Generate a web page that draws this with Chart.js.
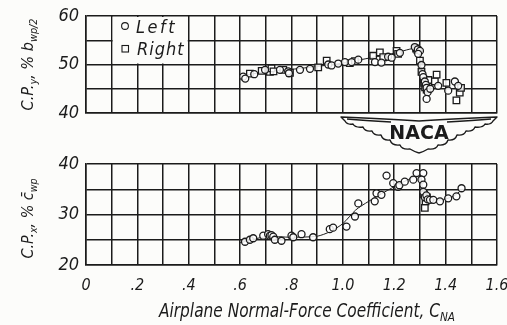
<!DOCTYPE html>
<html>
<head>
<meta charset="utf-8">
<script src="https://cdn.jsdelivr.net/npm/chart.js@4.4.1/dist/chart.umd.min.js"></script>
<style>
  html, body { margin: 0; padding: 0; background: #fcfcfa; overflow: hidden; }
  #wrap { position: relative; width: 507px; height: 325px; overflow: hidden; }
  #wrap canvas { position: absolute; left: 0; top: 0; }
</style>
</head>
<body>
<div id="wrap">
  <canvas id="cpy"></canvas>
  <canvas id="cpx"></canvas>
</div>
<script>
// ---- data: [C_NA, value] ----
const xTickLabels = ['0', '.2', '.4', '.6', '.8', '1.0', '1.2', '1.4', '1.6'];
const cpyTickLabels = [40, 50, 60];
const cpxTickLabels = [20, 30, 40];

// lateral centre of pressure, % b_wp/2
const cpyLeft = [
  [0.612,47.5],[0.620,47.1],[0.655,48.0],[0.697,48.9],[0.755,48.9],[0.787,48.6],[0.790,48.2],
  [0.833,48.9],[0.872,49.1],[0.943,50.0],[0.956,49.8],[0.982,50.2],[1.008,50.5],[1.034,50.5],
  [1.060,51.0],[1.125,50.5],[1.150,50.4],[1.176,51.6],[1.190,51.4],[1.222,52.4],[1.280,53.6],
  [1.292,53.1],[1.300,52.8],[1.293,52.2],[1.306,49.9],[1.310,48.0],[1.313,47.4],[1.319,46.5],
  [1.323,45.8],[1.326,45.2],[1.330,44.3],[1.326,42.9],[1.340,45.0],[1.371,45.6],[1.410,44.6],
  [1.436,46.5],[1.449,45.6]
];
const cpyRight = [
  [0.638,48.1],[0.684,48.7],[0.716,48.5],[0.722,49.2],[0.730,48.6],[0.768,48.9],[0.794,48.3],
  [0.904,49.4],[0.937,50.8],[1.027,50.3],[1.047,50.7],[1.118,51.8],[1.144,52.5],[1.157,51.5],
  [1.209,52.8],[1.215,52.2],[1.285,53.3],[1.290,53.0],[1.300,50.8],[1.306,48.5],[1.313,47.0],
  [1.316,46.2],[1.320,45.3],[1.326,44.8],[1.333,46.8],[1.358,46.5],[1.365,47.9],[1.403,46.2],
  [1.442,42.6],[1.455,44.2],[1.460,45.2]
];
const cpyFaired = [
  [0.60,47.6],[0.70,48.5],[0.80,49.0],[0.90,49.6],[1.00,50.3],[1.10,51.3],[1.20,52.3],
  [1.29,53.3],[1.30,50.5],[1.31,47.5],[1.325,45.0]
];

// chordwise centre of pressure, % c_wp
const cpxLeft = [
  [0.619,24.6],[0.638,25.0],[0.651,25.3],[0.690,25.8],[0.709,26.1],[0.716,25.8],[0.722,25.9],
  [0.729,25.6],[0.735,25.0],[0.761,24.8],[0.800,25.8],[0.807,25.5],[0.839,26.1],[0.884,25.5],
  [0.949,27.1],[0.962,27.4],[1.014,27.6],[1.047,29.6],[1.060,32.2],[1.124,32.6],[1.131,34.2],
  [1.150,33.9],[1.170,37.7],[1.196,36.2],[1.215,35.5],[1.220,35.8],[1.241,36.5],[1.274,36.9],
  [1.287,38.2],[1.313,38.2],[1.306,36.9],[1.313,35.9],[1.313,34.5],[1.319,33.4],[1.325,33.8],
  [1.330,33.0],[1.339,32.9],[1.352,32.9],[1.378,32.6],[1.410,33.2],[1.442,33.6],[1.462,35.2]
];
const cpxRight = [
  [1.316,34.0],[1.319,31.3],[1.322,32.6],[1.327,33.4]
];
const cpxFaired = [
  [0.60,24.4],[0.70,25.6],[0.80,25.5],[0.90,25.7],[0.95,26.6],[1.00,28.2],[1.05,30.9],
  [1.10,32.6],[1.15,34.1],[1.20,35.5],[1.25,36.8],[1.30,37.8],[1.31,35.0],[1.325,33.2],
  [1.38,32.9],[1.43,33.6],[1.465,35.0]
];

// ---- styling ----
const INK = '#1b1b1b';
const PAPER = '#fcfcfa';
const FONT = '"DejaVu Sans Condensed", "DejaVu Sans", sans-serif';
const W = 520, H = 325;
const toXY = arr => arr.map(([x, y]) => ({ x, y }));

function markerSet(label, pts, style) {
  return {
    label, data: toXY(pts), showLine: false, order: 0,
    pointStyle: style, pointRadius: style === 'rect' ? 4.6 : 3.5,
    pointBackgroundColor: 'rgba(255,255,255,0.85)', pointBorderColor: INK, pointBorderWidth: 1.3,
    pointHoverRadius: 0
  };
}
function fairedSet(pts) {
  return {
    label: 'faired', data: toXY(pts), showLine: true, order: 1,
    borderColor: INK, borderWidth: 1, pointRadius: 0, tension: 0.25, fill: false
  };
}

function xAxis(showLabels, height) {
  return {
    type: 'linear', min: 0, max: 1.6,
    afterBuildTicks: s => { s.ticks = Array.from({ length: 17 }, (_, i) => ({ value: i / 10 })); },
    ticks: {
      display: showLabels, autoSkip: false, maxRotation: 0, padding: 11, color: INK,
      font: { family: FONT, size: 16, style: 'italic' },
      callback: v => { const i = Math.round(v * 10); return i % 2 === 0 ? xTickLabels[i / 2] : ''; }
    },
    grid: { color: INK, lineWidth: 1.5, drawTicks: false },
    border: { color: INK, width: 1.5 },
    afterFit: s => { s.height = height; }
  };
}
function yAxis(min, max, labels) {
  return {
    type: 'linear', min, max,
    afterBuildTicks: s => { s.ticks = []; for (let v = min; v <= max; v += 5) s.ticks.push({ value: v }); },
    ticks: {
      padding: 7, color: INK, font: { family: FONT, size: 18, style: 'italic', lineHeight: 1 },
      callback: v => labels.includes(v) ? String(v) : ''
    },
    grid: { color: INK, lineWidth: 1.5, drawTicks: false },
    border: { color: INK, width: 1.5 },
    afterFit: s => { s.width = 86; }
  };
}

// text with subscripts: parts = [{t, sub}], optionally squeezed to a given width
function drawRich(ctx, parts, cx, baseY, size, fitWidth) {
  const big = `italic ${size}px ${FONT}`, small = `italic ${Math.round(size * 0.68)}px ${FONT}`;
  let w = 0;
  parts.forEach(p => { ctx.font = p.sub ? small : big; w += ctx.measureText(p.t).width; });
  const k = fitWidth ? fitWidth / w : 1;
  ctx.save();
  ctx.translate(cx - (w * k) / 2, baseY);
  ctx.scale(k, 1);
  let x = 0;
  ctx.textAlign = 'left'; ctx.textBaseline = 'alphabetic'; ctx.fillStyle = INK;
  parts.forEach(p => {
    ctx.font = p.sub ? small : big;
    ctx.fillText(p.t, x, p.sub ? size * 0.22 : 0);
    x += ctx.measureText(p.t).width;
  });
  ctx.restore();
}
function drawVertical(ctx, parts, cx, cy, size, fitWidth) {
  ctx.save();
  ctx.translate(cx, cy);
  ctx.rotate(-Math.PI / 2);
  drawRich(ctx, parts, 0, size * 0.35, size, fitWidth);
  ctx.restore();
}

// NACA wing emblem between the panels
function drawEmblem(ctx) {
  const cx = 419;
  ctx.save();
  ctx.strokeStyle = INK; ctx.lineWidth = 1.4; ctx.lineJoin = 'round';
  const half = s => {
    ctx.beginPath();
    ctx.moveTo(cx, 121);
    ctx.quadraticCurveTo(cx + s * 30, 119, cx + s * 78, 117);
    ctx.lineTo(cx + s * 74, 121);
    const feathers = [[66,124],[56,127],[47,131],[38,135],[29,140],[19,145],[9,149]];
    let px = 74;
    feathers.forEach(([fx, fy]) => {
      ctx.quadraticCurveTo(cx + s * (px - 2), fy + 1, cx + s * fx, fy);
      px = fx;
    });
    ctx.quadraticCurveTo(cx + s * 4, 152, cx, 153);
    ctx.stroke();
    ctx.beginPath();
    ctx.moveTo(cx + s * 28, 122);
    ctx.quadraticCurveTo(cx + s * 55, 120.5, cx + s * 72, 119);
    ctx.stroke();
  };
  half(1); half(-1);
  ctx.fillStyle = INK;
  ctx.font = `bold 19px "DejaVu Sans", sans-serif`;
  ctx.textAlign = 'center'; ctx.textBaseline = 'alphabetic';
  ctx.fillText('NACA', cx, 139);
  ctx.restore();
}

const panelExtras = {
  id: 'panelExtras',
  beforeDatasetsDraw(chart, args, opts) {
    const ctx = chart.ctx, xs = chart.scales.x, ys = chart.scales.y;
    if (opts.legend) {
      // clear a 3x2 block of cells for the key
      const x0 = xs.getPixelForValue(0.1), x1 = xs.getPixelForValue(0.4);
      const y0 = ys.getPixelForValue(60), y1 = ys.getPixelForValue(50);
      ctx.save();
      ctx.fillStyle = PAPER;
      ctx.fillRect(x0 + 1, y0 + 1, x1 - x0 - 2, y1 - y0 - 2);
      ctx.strokeStyle = INK; ctx.lineWidth = 1.1;
      ctx.beginPath(); ctx.arc(125, 26, 3.4, 0, Math.PI * 2); ctx.stroke();
      ctx.strokeRect(122, 45.5, 6.5, 6.5);
      ctx.fillStyle = INK;
      ctx.font = `italic 18px ${FONT}`;
      ctx.textAlign = 'left'; ctx.textBaseline = 'alphabetic';
      ctx.letterSpacing = '2.5px';
      ctx.fillText('Left', 136, 33);
      ctx.letterSpacing = '1px';
      ctx.fillText('Right', 137, 55);
      ctx.restore();
    }
  },
  afterDraw(chart, args, opts) {
    const ctx = chart.ctx, ys = chart.scales.y;
    const cy = (ys.top + ys.bottom) / 2;
    ctx.save();
    drawVertical(ctx, opts.yTitle, 28, cy + (opts.yShift || 0), 15, opts.yTitleWidth);
    if (opts.xTitle) drawRich(ctx, opts.xTitle, 307, 317, 19, 296);
    if (opts.emblem) drawEmblem(ctx);
    ctx.restore();
  }
};

function makeChart(id, padTop, xHeight, xLabels, yMin, yMax, yLabels, sets, extras) {
  const el = document.getElementById(id);
  el.width = W; el.height = H;
  el.style.width = W + 'px'; el.style.height = H + 'px';
  return new Chart(el, {
    type: 'scatter',
    data: { datasets: sets },
    options: {
      responsive: false, animation: false, events: [],
      layout: { padding: { top: padTop, left: 0, right: W - 497, bottom: 0 } },
      scales: { x: xAxis(xLabels, xHeight), y: yAxis(yMin, yMax, yLabels) },
      plugins: { legend: { display: false }, tooltip: { enabled: false }, panelExtras: extras }
    },
    plugins: [panelExtras]
  });
}

Chart.defaults.font.family = FONT;

makeChart('cpy', 10, H - 113, false, 40, 60, cpyTickLabels,
  [markerSet('Left', cpyLeft, 'circle'), markerSet('Right', cpyRight, 'rect'), fairedSet(cpyFaired)],
  { legend: true, emblem: true, yTitleWidth: 92,
    yTitle: [{ t: 'C.P.' }, { t: 'y', sub: true }, { t: ', % b' }, { t: 'wp/2', sub: true }] });

makeChart('cpx', 164, H - 265, true, 20, 40, cpxTickLabels,
  [markerSet('Left', cpxLeft, 'circle'), markerSet('Right', cpxRight, 'rect'), fairedSet(cpxFaired)],
  { legend: false, emblem: false, yShift: 4, yTitleWidth: 80,
    yTitle: [{ t: 'C.P.' }, { t: 'x', sub: true }, { t: ', % c\u0304' }, { t: 'wp', sub: true }],
    xTitle: [{ t: 'Airplane Normal-Force Coefficient, C' }, { t: 'NA', sub: true }] });
</script>
</body>
</html>
